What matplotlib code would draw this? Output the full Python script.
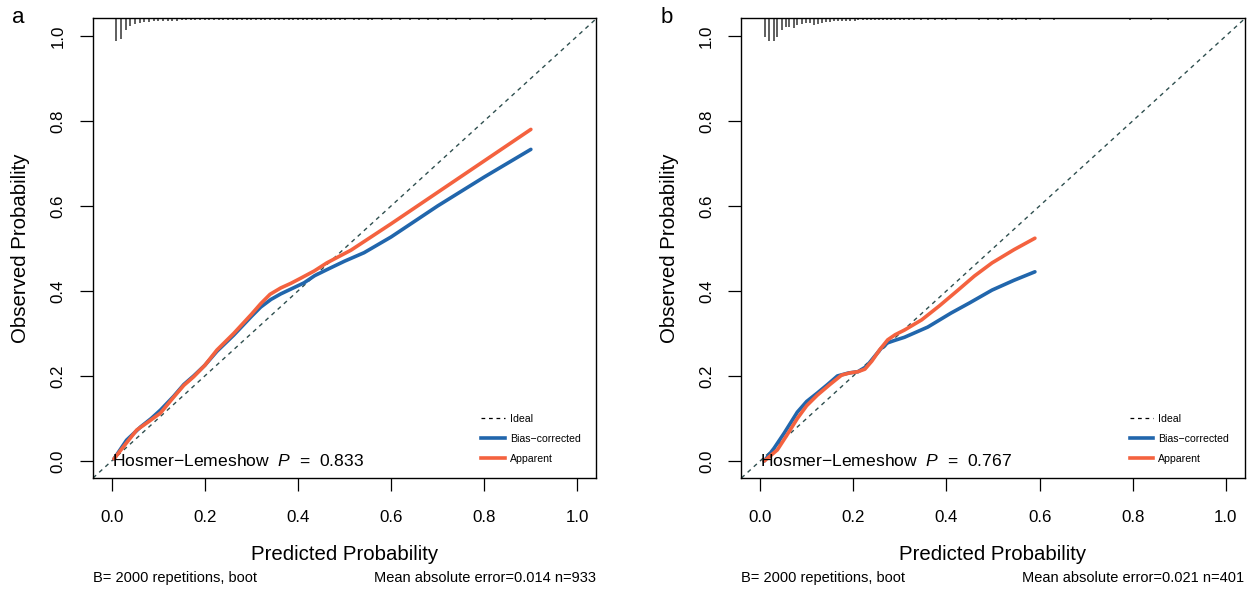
import numpy as np
import matplotlib
matplotlib.use("Agg")
import matplotlib.pyplot as plt

plt.rcParams['font.family'] = ['Liberation Sans', 'DejaVu Sans']
plt.rcParams['mathtext.fontset'] = 'custom'
plt.rcParams['mathtext.rm'] = 'Liberation Sans'
plt.rcParams['mathtext.it'] = 'Liberation Sans:italic'

# -----------------------------
# data
# -----------------------------
ticks = [0.0, 0.2, 0.4, 0.6, 0.8, 1.0]
tick_labels = ["0.0", "0.2", "0.4", "0.6", "0.8", "1.0"]

# panel a
a_app_x = [0.005, 0.03, 0.054, 0.08, 0.105, 0.133, 0.155, 0.176, 0.2, 0.226, 0.262,
           0.3, 0.32, 0.34, 0.363, 0.385, 0.406, 0.435, 0.462, 0.514, 0.6, 0.7, 0.8, 0.9]
a_app_y = [0.005, 0.04, 0.073, 0.093, 0.113, 0.15, 0.178, 0.198, 0.225, 0.261, 0.30,
           0.345, 0.37, 0.392, 0.407, 0.418, 0.43, 0.447, 0.466, 0.496, 0.558, 0.632, 0.706, 0.78]
a_bias_x = [0.005, 0.032, 0.062, 0.085, 0.105, 0.133, 0.155, 0.176, 0.2, 0.226, 0.262,
            0.3, 0.32, 0.342, 0.363, 0.388, 0.413, 0.436, 0.462, 0.5, 0.542, 0.6, 0.7, 0.8, 0.9]
a_bias_y = [0.005, 0.049, 0.08, 0.1, 0.12, 0.152, 0.18, 0.2, 0.225, 0.258, 0.296,
            0.34, 0.362, 0.38, 0.393, 0.406, 0.419, 0.436, 0.45, 0.47, 0.49, 0.527, 0.6, 0.668, 0.733]
a_rug_x = [0.01, 0.02, 0.03, 0.04, 0.05, 0.06, 0.07, 0.08, 0.09, 0.10,
           0.11, 0.12, 0.13, 0.14, 0.15, 0.16, 0.17, 0.18, 0.19, 0.20,
           0.21, 0.22, 0.23, 0.24, 0.25, 0.26, 0.27, 0.28, 0.29, 0.30,
           0.31, 0.32, 0.33, 0.34, 0.35, 0.36, 0.37, 0.38, 0.39, 0.40,
           0.41, 0.42, 0.43, 0.44, 0.45, 0.46, 0.47, 0.48, 0.49, 0.50,
           0.52, 0.53, 0.55, 0.56, 0.58, 0.60, 0.62, 0.64, 0.66, 0.68,
           0.70, 0.72, 0.74, 0.77, 0.80, 0.83, 0.86, 0.90, 0.93]
a_rug_n = [23.4, 21.4, 12, 7.7, 6, 5.3, 4.3, 3.7, 3.3, 3.2,
           3, 2.8, 2.7, 2.6, 2.4, 2.3, 2.2, 2.1, 2, 2,
           1.9, 1.8, 1.8, 1.7, 1.7, 1.6, 1.6, 1.6, 1.5, 1.5,
           1.5, 1.5, 1.5, 1.5, 1.5, 1.5, 1.5, 1.5, 1.5, 1.5,
           1.5, 1.5, 1.5, 1.5, 1.5, 1.5, 1.5, 1.5, 1.5, 1.5,
           1.5, 1.5, 1.5, 1.5, 1.5, 1.5, 1.5, 1.5, 1.5, 1.5,
           1.5, 1.5, 1.5, 1.5, 1.5, 1.5, 1.5, 1.5, 1.5]

# panel b
b_app_x = [0.009, 0.037, 0.06, 0.08, 0.1, 0.123, 0.15, 0.175, 0.192, 0.21, 0.225, 0.24,
           0.257, 0.274, 0.29, 0.31, 0.347, 0.385, 0.425, 0.46, 0.498, 0.545, 0.59]
b_app_y = [0.0, 0.026, 0.065, 0.10, 0.13, 0.155, 0.18, 0.202, 0.207, 0.21, 0.216, 0.235,
           0.262, 0.285, 0.297, 0.308, 0.332, 0.365, 0.402, 0.435, 0.466, 0.497, 0.524]
b_bias_x = [0.009, 0.03, 0.052, 0.08, 0.1, 0.123, 0.145, 0.166, 0.19, 0.21, 0.228, 0.245,
            0.26, 0.274, 0.29, 0.31, 0.36, 0.41, 0.45, 0.498, 0.545, 0.59]
b_bias_y = [0.0, 0.03, 0.066, 0.115, 0.14, 0.16, 0.18, 0.2, 0.207, 0.21, 0.222, 0.245,
            0.265, 0.278, 0.284, 0.291, 0.315, 0.348, 0.372, 0.402, 0.425, 0.445]
b_rug_x = [0.010, 0.020, 0.029, 0.037, 0.046, 0.055, 0.063, 0.072, 0.080, 0.089,
           0.098, 0.107, 0.115, 0.124, 0.132, 0.141, 0.150, 0.159, 0.168, 0.176,
           0.185, 0.194, 0.203, 0.211, 0.220, 0.229, 0.238, 0.246, 0.255, 0.264,
           0.273, 0.282, 0.290, 0.300, 0.310, 0.320, 0.330, 0.345, 0.360, 0.375,
           0.390, 0.400, 0.420, 0.470, 0.490, 0.510, 0.520, 0.540, 0.550, 0.570,
           0.600, 0.630, 0.795, 0.840, 0.875]
b_rug_n = [18.7, 23.4, 23.4, 18.7, 12, 8.7, 8.7, 10, 6.7, 6,
           5.3, 4.7, 6.7, 6, 5.3, 4.3, 3.7, 3.3, 3.3, 3,
           3, 2.7, 2.7, 2.3, 2.3, 2.3, 2, 2, 2, 1.7,
           1.7, 1.7, 1.5, 1.5, 1.5, 1.5, 1.5, 1.5, 1.5, 1.5,
           1.7, 1.5, 1.5, 1.5, 1.5, 1.5, 1.5, 1.5, 1.7, 1.5,
           1.5, 1.5, 1.5, 1.5, 1.5]

panels = [
    ("a", a_app_x, a_app_y, a_bias_x, a_bias_y, a_rug_x, a_rug_n, "0.833",
     "Mean absolute error=0.014 n=933"),
    ("b", b_app_x, b_app_y, b_bias_x, b_bias_y, b_rug_x, b_rug_n, "0.767",
     "Mean absolute error=0.021 n=401"),
]

BLUE = "#2166AC"
RED = "#F4623F"
IDEAL = "#2F4F4F"

fig = plt.figure(figsize=(12.47, 5.89), dpi=100)
lefts = [0.0746, 0.5946]

for left, (tag, ax_x, ax_y, bx, by, rx, rn, pval, mae) in zip(lefts, panels):
    ax = fig.add_axes([left, 0.1885, 0.4034, 0.7809])
    ax.set_xlim(-0.04, 1.04)
    ax.set_ylim(-0.04, 1.042)

    ax.axline((0, 0), (1, 1), color=IDEAL, lw=1.0, ls=(0, (3, 3)), zorder=1)
    ax.plot(bx, by, color=BLUE, lw=2.6, solid_capstyle="round",
            solid_joinstyle="round", zorder=2)
    ax.plot(ax_x, ax_y, color=RED, lw=2.6, solid_capstyle="round",
            solid_joinstyle="round", zorder=3)

    # spike histogram of predictions hanging from the top
    rn = np.array(rn)
    ax.vlines(rx, 1 - rn / rn.max() * 0.051, 1, color="#333333", lw=1.1,
              transform=ax.get_xaxis_transform(), zorder=2)

    ax.text(0.0, 0.0, "Hosmer\u2212Lemeshow  $P$  =  " + pval, fontsize=12.6,
            ha="left", va="center", zorder=4)

    h_ideal, = ax.plot([], [], color="black", lw=0.9, ls=(0, (3, 3)))
    h_bias, = ax.plot([], [], color=BLUE, lw=2.6)
    h_app, = ax.plot([], [], color=RED, lw=2.6)
    ax.legend([h_ideal, h_bias, h_app], ["Ideal", "Bias\u2212corrected", "Apparent"],
              loc="lower left", bbox_to_anchor=(0.772, 0.03), frameon=False,
              fontsize=7.6, handlelength=2.2, handletextpad=0.5,
              labelspacing=0.95, borderaxespad=0, borderpad=0)

    ax.set_xticks(ticks)
    ax.set_xticklabels(tick_labels)
    ax.set_yticks(ticks)
    ax.set_yticklabels(tick_labels, rotation=90, va="center")
    ax.tick_params(direction="out", length=9.3, width=0.9, labelsize=12.2)
    ax.tick_params(axis="x", pad=13.5)
    ax.tick_params(axis="y", pad=10.5)
    for s in ax.spines.values():
        s.set_linewidth(1.0)

    ax.set_xlabel("Predicted Probability", fontsize=14.7)
    ax.xaxis.set_label_coords(0.5, -0.146)
    ax.set_ylabel("Observed Probability", fontsize=14.7)
    ax.yaxis.set_label_coords(-0.125, 0.5)

    ax.text(0.0, -0.218, "B= 2000 repetitions, boot", transform=ax.transAxes,
            fontsize=10.5, ha="left", va="center")
    ax.text(1.0, -0.218, mae, transform=ax.transAxes,
            fontsize=10.5, ha="right", va="center")

    fig.text(left - 0.06, 0.97, tag, fontsize=16, ha="center", va="center")

fig.savefig("out.png", dpi=100)
